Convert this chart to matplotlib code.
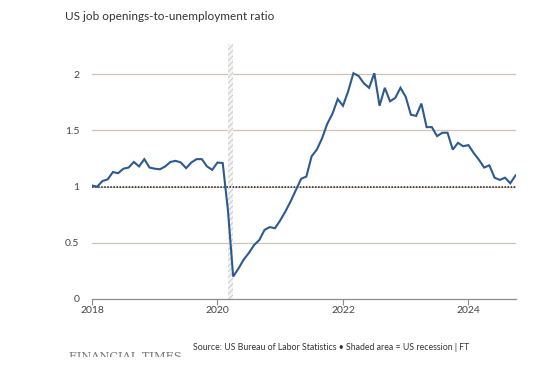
import matplotlib
matplotlib.use("Agg")
import matplotlib.pyplot as plt
import numpy as np

# Monthly ratio, Jan 2018 - Oct 2024
ratio = [
    1.01, 1.00, 1.05, 1.065, 1.13, 1.12, 1.16, 1.17, 1.22, 1.18, 1.245, 1.17,
    1.16, 1.155, 1.18, 1.22, 1.23, 1.215, 1.165, 1.215, 1.245, 1.245, 1.18, 1.15,
    1.215, 1.21, 0.79, 0.20, 0.27, 0.35, 0.41, 0.48, 0.525, 0.615, 0.64, 0.63,
    0.70, 0.78, 0.87, 0.97, 1.07, 1.09, 1.27, 1.33, 1.43, 1.56, 1.65, 1.78,
    1.72, 1.85, 2.01, 1.985, 1.92, 1.88, 2.01, 1.72, 1.88, 1.76, 1.79, 1.88,
    1.80, 1.64, 1.63, 1.74, 1.53, 1.53, 1.45, 1.48, 1.48, 1.33, 1.39, 1.36,
    1.37, 1.30, 1.24, 1.17, 1.19, 1.08, 1.06, 1.08, 1.03, 1.10,
]
start_year = 2018
recession = (2020 + 2/12, 2020 + 3/12)
x_ticks = [2018, 2020, 2022, 2024]
y_ticks = [0, 0.5, 1, 1.5, 2]
y_labels = ["0", "0.5", "1", "1.5", "2"]

x = start_year + np.arange(len(ratio)) / 12.0

plt.rcParams['font.family'] = ['Lato', 'DejaVu Sans']
plt.rcParams['hatch.linewidth'] = 0.6

fig = plt.figure(figsize=(5.42, 3.82), dpi=100)
ax = fig.add_axes([92/542, 1 - 299/382, (515.5 - 92)/542, (299 - 44)/382])

ax.set_xlim(x[0], x[-1])
ax.set_ylim(0, 2.27)

for yt in y_ticks[1:]:
    ax.axhline(yt, color='#cdc4b6', lw=0.9, zorder=1)

ax.axvspan(recession[0], recession[1], facecolor='#f4f4f4', edgecolor='#c4c4c4',
           hatch='//////', lw=0, zorder=2)

ax.axhline(1, color='#222222', lw=1.1, ls=(0, (1, 1)), zorder=3)
ax.plot(x, ratio, color='#2c5a8f', lw=1.5, zorder=4, solid_joinstyle='miter')

for s in ['top', 'right', 'left']:
    ax.spines[s].set_visible(False)
ax.spines['bottom'].set_color('#8c8c8c')
ax.spines['bottom'].set_linewidth(0.9)
ax.spines['bottom'].set_zorder(5)

ax.set_xticks(x_ticks)
ax.set_xticklabels([str(t) for t in x_ticks])
ax.set_yticks(y_ticks)
ax.set_yticklabels(y_labels)
ax.tick_params(axis='x', length=4, width=0.8, color='#8c8c8c', labelsize=7.5,
               labelcolor='#444444', pad=1)
ax.tick_params(axis='y', length=0, labelsize=7.5, labelcolor='#444444', pad=9)

fig.text(65/542, 1 - 17/382, "US job openings-to-unemployment ratio",
         fontsize=8.5, color='#333333', ha='left', va='center')
fig.text(193/542, 1 - 348/382,
         "Source: US Bureau of Labor Statistics \u2022 Shaded area = US recession | FT",
         fontsize=6.3, color='#333333', ha='left', va='center')
fig.text(69/542, 1 - 359.5/382, "FINANCIAL TIMES", fontsize=8.2, color='#777777',
         ha='left', va='baseline', family='DejaVu Serif', zorder=1)
fig.patches.append(plt.Rectangle((60/542, 1 - 368/382), 125/542, 11/382,
                                 transform=fig.transFigure, facecolor='white',
                                 edgecolor='none', zorder=10))

fig.savefig("out.png", dpi=100)
